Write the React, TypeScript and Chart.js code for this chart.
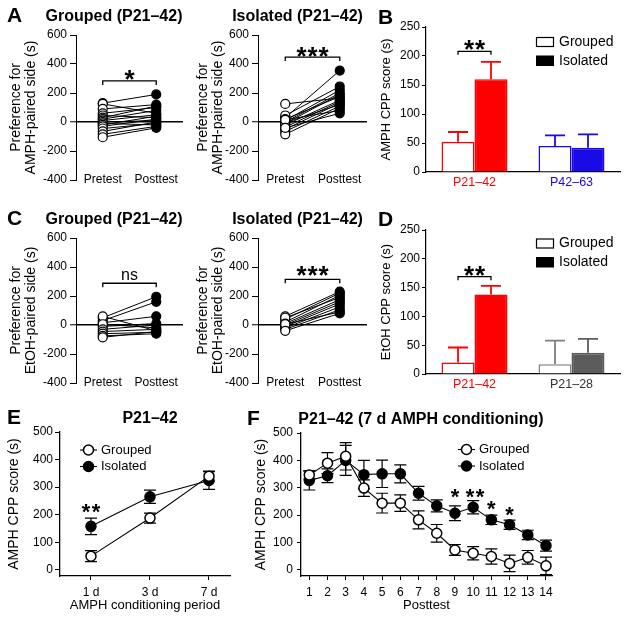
import React, { useEffect, useRef } from 'react';
import { Chart, registerables } from 'chart.js';

Chart.register(...registerables);

const FONT = "'Liberation Sans', Arial, Helvetica, sans-serif";
Chart.defaults.font.family = FONT;
Chart.defaults.color = '#000';

// ---------------- DATA ----------------
const pairLabels = ['Pretest', 'Posttest'];
const prefTicks = [-400, -200, 0, 200, 400, 600];

const aGroupedPre = [130, 125, 90, 60, 45, 30, 20, 10, 0, -10, -20, -30, -45, -65, -85, -105];
const aGroupedPost = [190, 60, 120, 100, 30, 110, 80, 50, 10, -20, 40, 20, -10, 0, -30, -40];
const aIsolatedPre = [125, 30, 45, 10, 0, -10, 20, -20, -35, -50, -5, -65, -85, 15, -40];
const aIsolatedPost = [165, 355, 245, 220, 200, 190, 175, 150, 140, 130, 120, 110, 95, 80, 60];
const cGroupedPre = [50, 30, 15, 60, -10, 5, -30, -45, -60, -75, -85];
const cGroupedPost = [195, 160, 60, -40, 10, -20, 0, -30, -50, -60, -45];
const cIsolatedPre = [60, 40, 20, 50, 10, 0, -10, -20, -30, 5, -40];
const cIsolatedPost = [230, 220, 205, 190, 175, 160, 145, 125, 105, 90, 80];

const cppTicks = [0, 50, 100, 150, 200, 250];
const bCategories = ['P21–42', 'P42–63'];
const bGrouped = [52, 45];
const bGroupedErr = [17, 18];
const bIsolated = [160, 42];
const bIsolatedErr = [30, 23];

const dCategories = ['P21–42', 'P21–28'];
const dGrouped = [20, 17];
const dGroupedErr = [26, 41];
const dIsolated = [138, 37];
const dIsolatedErr = [15, 24];

const scoreTicks = [0, 100, 200, 300, 400, 500];
const eCategories = ['1 d', '3 d', '7 d'];
const eGrouped = [50, 188, 340];
const eGroupedErr = [20, 18, 18];
const eIsolated = [158, 265, 324];
const eIsolatedErr = [30, 24, 32];

const fCategories = ['1', '2', '3', '4', '5', '6', '7', '8', '9', '10', '11', '12', '13', '14'];
const fGrouped = [347, 390, 415, 299, 244, 244, 183, 134, 73, 61, 49, 24, 46, 15];
const fGroupedErr = [15, 38, 50, 30, 36, 30, 33, 32, 20, 24, 28, 30, 25, 32];
const fIsolated = [327, 344, 400, 348, 351, 351, 280, 234, 207, 229, 183, 165, 128, 89];
const fIsolatedErr = [35, 25, 55, 52, 50, 33, 25, 22, 27, 24, 17, 17, 17, 20];
const fStarAt = [9, 10.1, 11, 12];
const fStarCount = [1, 2, 1, 1];
const fStarValue = [286, 286, 243, 221];

// ---------------- STYLE ----------------
const RED = '#ff0000';
const BLUE = '#1a0ae6';
const GRAY = '#808080';
const DARK_GRAY = '#5c5c5c';
const LABEL_GRAY = '#333333';

type Box = { x: number; y: number; w: number; h: number };
type Area = { l: number; t: number; r: number; b: number };

function txt(
  ctx: CanvasRenderingContext2D,
  s: string,
  x: number,
  y: number,
  size: number,
  weight = 'normal',
  align: CanvasTextAlign = 'center',
  baseline: CanvasTextBaseline = 'middle',
  color = '#000'
) {
  ctx.save();
  ctx.font = `${weight} ${size}px ${FONT}`;
  ctx.fillStyle = color;
  ctx.textAlign = align;
  ctx.textBaseline = baseline;
  ctx.fillText(s, x, y);
  ctx.restore();
}

function stars(ctx: CanvasRenderingContext2D, n: number, cx: number, cy: number, size: number, spacing: number) {
  ctx.save();
  ctx.font = `bold ${size}px ${FONT}`;
  ctx.fillStyle = '#000';
  ctx.textAlign = 'center';
  ctx.textBaseline = 'alphabetic';
  for (let k = 0; k < n; k++) ctx.fillText('*', cx + (k - (n - 1) / 2) * spacing, cy + 0.573 * size);
  ctx.restore();
}

function bracket(ctx: CanvasRenderingContext2D, x1: number, x2: number, y: number, leg: number) {
  ctx.save();
  ctx.strokeStyle = '#000';
  ctx.lineWidth = 1.3;
  ctx.beginPath();
  ctx.moveTo(x1, y + leg);
  ctx.lineTo(x1, y);
  ctx.lineTo(x2, y);
  ctx.lineTo(x2, y + leg);
  ctx.stroke();
  ctx.restore();
}

function overlay(under: ((c: any) => void) | null, over: ((c: any) => void) | null) {
  return {
    id: 'overlay',
    beforeDatasetsDraw(chart: any) {
      if (under) under(chart);
    },
    afterDraw(chart: any) {
      if (over) over(chart);
    },
  };
}

function padFor(box: Box, area: Area) {
  return { left: 0, top: area.t - box.y, right: box.x + box.w - area.r, bottom: 0 };
}

// ---------------- PAIR (A, C) ----------------
type PairSpec = {
  box: Box;
  area: Area;
  pre: number[];
  post: number[];
  title: string;
  titleX: number;
  titleY: number;
  letter?: string;
  yTitle: string[];
  yTitlePad: number;
  sig: string;
  sigValue: number;
  sigGap: number;
};

function pairConfig(p: PairSpec): any {
  const { box, area } = p;
  return {
    type: 'scatter',
    data: {
      datasets: [
        {
          data: p.pre.map((v) => ({ x: 0, y: v })),
          pointRadius: 4.5,
          pointBackgroundColor: '#fff',
          pointBorderColor: '#000',
          pointBorderWidth: 1.2,
          showLine: false,
          order: 0,
        },
        {
          data: p.post.map((v) => ({ x: 1, y: v })),
          pointRadius: 4.5,
          pointBackgroundColor: '#000',
          pointBorderColor: '#000',
          pointBorderWidth: 1.2,
          showLine: false,
          order: 0,
        },
        ...p.pre.map((v, i) => ({
          data: [
            { x: 0, y: v },
            { x: 1, y: p.post[i] },
          ],
          showLine: true,
          borderColor: '#000',
          borderWidth: 1,
          pointRadius: 0,
          order: 1,
        })),
      ],
    },
    options: {
      responsive: false,
      animation: false,
      events: [],
      layout: { padding: padFor(box, area) },
      plugins: { legend: { display: false }, tooltip: { enabled: false } },
      scales: {
        x: {
          type: 'linear',
          min: -0.5,
          max: 1.5,
          afterBuildTicks: (s: any) => {
            s.ticks = pairLabels.map((_, i) => ({ value: i }));
          },
          ticks: {
            callback: (v: any) => pairLabels[v],
            font: { family: FONT, size: 12 },
            color: '#000',
            mirror: true,
            padding: -7.2,
            maxRotation: 0,
            autoSkip: false,
          },
          grid: { display: false, drawTicks: false },
          border: { display: false },
          afterFit: (s: any) => {
            s.height = box.y + box.h - area.b;
          },
        },
        y: {
          min: -400,
          max: 600,
          afterBuildTicks: (s: any) => {
            s.ticks = prefTicks.map((v) => ({ value: v }));
          },
          ticks: { font: { family: FONT, size: 12 }, color: '#000', padding: 3 },
          grid: {
            color: (c: any) => (c.tick && c.tick.value === 0 ? '#000' : 'rgba(0,0,0,0)'),
            lineWidth: (c: any) => (c.tick && c.tick.value === 0 ? 1.5 : 1),
            tickColor: '#000',
            tickWidth: 1,
            tickLength: 6,
          },
          border: { display: true, color: '#000', width: 1 },
          title: {
            display: true,
            text: p.yTitle,
            color: '#000',
            font: { family: FONT, size: 14, lineHeight: 1.1 },
            padding: { top: p.yTitlePad, bottom: 0 },
          },
          afterFit: (s: any) => {
            s.width = area.l - box.x;
          },
        },
      },
    },
    plugins: [
      overlay(null, (chart: any) => {
        const ctx = chart.ctx as CanvasRenderingContext2D;
        txt(ctx, p.title, p.titleX - box.x, p.titleY - box.y, 16, 'bold');
        if (p.letter) txt(ctx, p.letter, 7 - box.x, p.titleY - box.y - 1, 21, 'bold', 'left');
        const xs = chart.scales.x;
        const ys = chart.scales.y;
        const x1 = xs.getPixelForValue(0);
        const x2 = xs.getPixelForValue(1);
        const yb = ys.getPixelForValue(p.sigValue);
        bracket(ctx, x1, x2, yb, 4);
        if (p.sig === 'ns') txt(ctx, 'ns', (x1 + x2) / 2, yb - 3, 16, 'normal', 'center', 'alphabetic');
        else stars(ctx, p.sig.length, (x1 + x2) / 2, yb - p.sigGap, 26, 11);
      }),
    ],
  };
}

// ---------------- BARS (B, D) ----------------
type BarSpec = {
  box: Box;
  area: Area;
  categories: string[];
  grouped: number[];
  groupedErr: number[];
  isolated: number[];
  isolatedErr: number[];
  groupedColors: string[];
  isolatedColors: string[];
  labelColors: string[];
  letter: string;
  letterY: number;
  yTitle: string;
  legendTop: number;
  sigValue: number;
};

function barConfig(p: BarSpec): any {
  const { box, area } = p;
  return {
    type: 'bar',
    data: {
      labels: p.categories,
      datasets: [
        {
          label: 'Grouped',
          data: p.grouped,
          backgroundColor: '#fff',
          borderColor: p.groupedColors,
          borderWidth: 1.6,
        },
        {
          label: 'Isolated',
          data: p.isolated,
          backgroundColor: p.isolatedColors,
          borderColor: p.isolatedColors,
          borderWidth: 1.6,
        },
      ],
    },
    options: {
      responsive: false,
      animation: false,
      events: [],
      layout: { padding: padFor(box, area) },
      datasets: { bar: { categoryPercentage: 0.68, barPercentage: 1 } },
      plugins: { legend: { display: false }, tooltip: { enabled: false } },
      scales: {
        x: {
          grid: { display: false, drawTicks: false },
          border: { display: true, color: '#000', width: 1.2 },
          ticks: {
            color: (c: any) => p.labelColors[c.index],
            font: { family: FONT, size: 12.5 },
            padding: 3.5,
          },
          afterFit: (s: any) => {
            s.height = box.y + box.h - area.b;
          },
        },
        y: {
          min: 0,
          max: 250,
          afterBuildTicks: (s: any) => {
            s.ticks = cppTicks.map((v) => ({ value: v }));
          },
          ticks: { font: { family: FONT, size: 12 }, color: '#000', padding: 2 },
          grid: { drawOnChartArea: false, color: '#000', tickColor: '#000', tickLength: 4 },
          border: { display: true, color: '#000', width: 1.2 },
          title: {
            display: true,
            text: p.yTitle,
            color: '#000',
            font: { family: FONT, size: 13 },
            padding: { top: 6.2, bottom: 0 },
          },
          afterFit: (s: any) => {
            s.width = area.l - box.x;
          },
        },
      },
    },
    plugins: [
      overlay(null, (chart: any) => {
        const ctx = chart.ctx as CanvasRenderingContext2D;
        const ys = chart.scales.y;
        const sets = [
          { vals: p.grouped, errs: p.groupedErr, cols: p.groupedColors },
          { vals: p.isolated, errs: p.isolatedErr, cols: p.isolatedColors },
        ];
        sets.forEach((s, di) => {
          const meta = chart.getDatasetMeta(di);
          meta.data.forEach((el: any, j: number) => {
            const top = ys.getPixelForValue(s.vals[j] + s.errs[j]);
            ctx.save();
            ctx.strokeStyle = s.cols[j];
            ctx.lineWidth = 1.8;
            ctx.beginPath();
            ctx.moveTo(el.x, el.y);
            ctx.lineTo(el.x, top);
            ctx.moveTo(el.x - 10, top);
            ctx.lineTo(el.x + 10, top);
            ctx.stroke();
            ctx.restore();
          });
        });
        // letter
        txt(ctx, p.letter, 378 - box.x, p.letterY - box.y, 21, 'bold', 'left');
        // legend
        const lx = 536 - box.x;
        const ly = p.legendTop - box.y;
        ctx.save();
        ctx.fillStyle = '#fff';
        ctx.strokeStyle = '#000';
        ctx.lineWidth = 1.2;
        ctx.fillRect(lx, ly, 18, 10);
        ctx.strokeRect(lx + 0.5, ly + 0.5, 17, 9);
        ctx.fillStyle = '#000';
        ctx.fillRect(lx, ly + 18.5, 18, 10.5);
        ctx.restore();
        txt(ctx, 'Grouped', 559 - box.x, ly + 5, 14, 'normal', 'left');
        txt(ctx, 'Isolated', 559 - box.x, ly + 24, 14, 'normal', 'left');
        // significance
        const m0 = chart.getDatasetMeta(0).data[0];
        const m1 = chart.getDatasetMeta(1).data[0];
        const yb = ys.getPixelForValue(p.sigValue);
        bracket(ctx, m0.x, m1.x, yb, 3.5);
        stars(ctx, 2, (m0.x + m1.x) / 2, yb - 8, 26, 11);
      }),
    ],
  };
}

// ---------------- LINES (E, F) ----------------
type LineSpec = {
  box: Box;
  area: Area;
  categories: string[];
  grouped: number[];
  groupedErr: number[];
  isolated: number[];
  isolatedErr: number[];
  xMin: number;
  xMax: number;
  xTitle: string;
  xTitlePad: number;
  yTitlePad: number;
  yTickLen: number;
  yTickPad: number;
  letter: string;
  letterX: number;
  title: string;
  titleX: number;
  titleY: number;
  legendX: number;
  legendY: number;
  starAt: number[];
  starCount: number[];
  starValue: number[];
  starSpacing: number;
};

function lineConfig(p: LineSpec): any {
  const { box, area } = p;
  const mk = (vals: number[], fill: string, label: string) => ({
    label,
    data: vals.map((v, i) => ({ x: i + 1, y: v })),
    showLine: true,
    borderColor: '#000',
    borderWidth: 1.1,
    pointRadius: 5,
    pointBackgroundColor: fill,
    pointBorderColor: '#000',
    pointBorderWidth: 1.5,
  });
  return {
    type: 'scatter',
    data: {
      datasets: [mk(p.grouped, '#fff', 'Grouped'), mk(p.isolated, '#000', 'Isolated')],
    },
    options: {
      responsive: false,
      animation: false,
      events: [],
      layout: { padding: padFor(box, area) },
      plugins: { legend: { display: false }, tooltip: { enabled: false } },
      scales: {
        x: {
          type: 'linear',
          min: p.xMin,
          max: p.xMax,
          afterBuildTicks: (s: any) => {
            s.ticks = p.categories.map((_, i) => ({ value: i + 1 }));
          },
          ticks: {
            callback: (v: any) => p.categories[v - 1],
            font: { family: FONT, size: 12 },
            color: '#000',
            padding: 5,
            maxRotation: 0,
            autoSkip: false,
          },
          grid: { drawOnChartArea: false, color: '#000', tickColor: '#000', tickLength: 4 },
          border: { display: true, color: '#000', width: 1.3 },
          title: {
            display: true,
            text: p.xTitle,
            color: '#000',
            font: { family: FONT, size: 13 },
            padding: { top: 0, bottom: p.xTitlePad },
          },
          afterFit: (s: any) => {
            s.height = box.y + box.h - area.b;
          },
        },
        y: {
          min: -22,
          max: 500,
          afterBuildTicks: (s: any) => {
            s.ticks = scoreTicks.map((v) => ({ value: v }));
          },
          ticks: { font: { family: FONT, size: 12 }, color: '#000', padding: p.yTickPad },
          grid: { drawOnChartArea: false, color: '#000', tickColor: '#000', tickLength: p.yTickLen },
          border: { display: true, color: '#000', width: 1.3 },
          title: {
            display: true,
            text: 'AMPH CPP score (s)',
            color: '#000',
            font: { family: FONT, size: 14 },
            padding: { top: p.yTitlePad, bottom: 0 },
          },
          afterFit: (s: any) => {
            s.width = area.l - box.x;
          },
        },
      },
    },
    plugins: [
      overlay(
        (chart: any) => {
          const ctx = chart.ctx as CanvasRenderingContext2D;
          const xs = chart.scales.x;
          const ys = chart.scales.y;
          const sets = [
            { vals: p.grouped, errs: p.groupedErr },
            { vals: p.isolated, errs: p.isolatedErr },
          ];
          ctx.save();
          ctx.strokeStyle = '#000';
          ctx.lineWidth = 1.2;
          sets.forEach((s) => {
            s.vals.forEach((v, j) => {
              const x = xs.getPixelForValue(j + 1);
              const yt = ys.getPixelForValue(v + s.errs[j]);
              const yb = ys.getPixelForValue(v - s.errs[j]);
              ctx.beginPath();
              ctx.moveTo(x, yt);
              ctx.lineTo(x, yb);
              ctx.moveTo(x - 6, yt);
              ctx.lineTo(x + 6, yt);
              ctx.moveTo(x - 6, yb);
              ctx.lineTo(x + 6, yb);
              ctx.stroke();
            });
          });
          ctx.restore();
        },
        (chart: any) => {
          const ctx = chart.ctx as CanvasRenderingContext2D;
          const xs = chart.scales.x;
          const ys = chart.scales.y;
          txt(ctx, p.letter, p.letterX - box.x, p.titleY - box.y - 1, 21, 'bold', 'left');
          txt(ctx, p.title, p.titleX - box.x, p.titleY - box.y, 16, 'bold');
          // legend
          const items = [
            { fill: '#fff', label: 'Grouped' },
            { fill: '#000', label: 'Isolated' },
          ];
          items.forEach((it, k) => {
            const y = p.legendY - box.y + k * 16.5;
            const x0 = p.legendX - box.x;
            ctx.save();
            ctx.strokeStyle = '#000';
            ctx.lineWidth = 1.1;
            ctx.beginPath();
            ctx.moveTo(x0, y);
            ctx.lineTo(x0 + 17, y);
            ctx.stroke();
            ctx.beginPath();
            ctx.arc(x0 + 8.5, y, 5, 0, Math.PI * 2);
            ctx.fillStyle = it.fill;
            ctx.fill();
            ctx.lineWidth = 1.5;
            ctx.stroke();
            ctx.restore();
            txt(ctx, it.label, x0 + 21, y, 13, 'normal', 'left');
          });
          // stars
          p.starAt.forEach((c, k) => {
            stars(ctx, p.starCount[k], xs.getPixelForValue(c), ys.getPixelForValue(p.starValue[k]), 22, p.starSpacing);
          });
        }
      ),
    ],
  };
}

// ---------------- PANELS ----------------
const A1: PairSpec = {
  box: { x: 0, y: 0, w: 192, h: 195 },
  area: { l: 76, t: 35, r: 183, b: 180 },
  pre: aGroupedPre,
  post: aGroupedPost,
  title: 'Grouped (P21–42)',
  titleX: 114,
  titleY: 17,
  letter: 'A',
  yTitle: ['Preference for', 'AMPH-paired side (s)'],
  yTitlePad: 8.3,
  sig: '*',
  sigValue: 283,
  sigGap: 8,
};
const A2: PairSpec = {
  box: { x: 188, y: 0, w: 190, h: 195 },
  area: { l: 258, t: 35, r: 367, b: 180 },
  pre: aIsolatedPre,
  post: aIsolatedPost,
  title: 'Isolated (P21–42)',
  titleX: 297.5,
  titleY: 17,
  yTitle: ['Preference for', 'AMPH-paired side (s)'],
  yTitlePad: 7.3,
  sig: '***',
  sigValue: 448,
  sigGap: 7,
};
const C1: PairSpec = {
  box: { x: 0, y: 195, w: 192, h: 200 },
  area: { l: 76, t: 238, r: 183, b: 383 },
  pre: cGroupedPre,
  post: cGroupedPost,
  title: 'Grouped (P21–42)',
  titleX: 114,
  titleY: 220,
  letter: 'C',
  yTitle: ['Preference for', 'EtOH-paired side (s)'],
  yTitlePad: 8.3,
  sig: 'ns',
  sigValue: 288,
  sigGap: 8,
};
const C2: PairSpec = {
  box: { x: 188, y: 195, w: 190, h: 200 },
  area: { l: 258, t: 238, r: 367, b: 383 },
  pre: cIsolatedPre,
  post: cIsolatedPost,
  title: 'Isolated (P21–42)',
  titleX: 297.5,
  titleY: 220,
  yTitle: ['Preference for', 'EtOH-paired side (s)'],
  yTitlePad: 7.3,
  sig: '***',
  sigValue: 315,
  sigGap: 10,
};
const B: BarSpec = {
  box: { x: 372, y: 0, w: 257, h: 195 },
  area: { l: 426, t: 27, r: 620, b: 172 },
  categories: bCategories,
  grouped: bGrouped,
  groupedErr: bGroupedErr,
  isolated: bIsolated,
  isolatedErr: bIsolatedErr,
  groupedColors: [RED, BLUE],
  isolatedColors: [RED, BLUE],
  labelColors: [RED, BLUE],
  letter: 'B',
  letterY: 18,
  yTitle: 'AMPH CPP score (s)',
  legendTop: 37,
  sigValue: 208,
};
const D: BarSpec = {
  box: { x: 372, y: 195, w: 257, h: 200 },
  area: { l: 426, t: 230, r: 620, b: 374 },
  categories: dCategories,
  grouped: dGrouped,
  groupedErr: dGroupedErr,
  isolated: dIsolated,
  isolatedErr: dIsolatedErr,
  groupedColors: [RED, GRAY],
  isolatedColors: [RED, DARK_GRAY],
  labelColors: [RED, LABEL_GRAY],
  letter: 'D',
  letterY: 220,
  yTitle: 'EtOH CPP score (s)',
  legendTop: 238.5,
  sigValue: 169,
};
const E: LineSpec = {
  box: { x: 0, y: 400, w: 240, h: 220 },
  area: { l: 60, t: 432, r: 230, b: 576 },
  categories: eCategories,
  grouped: eGrouped,
  groupedErr: eGroupedErr,
  isolated: eIsolated,
  isolatedErr: eIsolatedErr,
  xMin: 0.475,
  xMax: 3.356,
  xTitle: 'AMPH conditioning period',
  xTitlePad: 6.7,
  yTitlePad: 5.6,
  yTickLen: 5,
  yTickPad: 2,
  letter: 'E',
  letterX: 7,
  title: 'P21–42',
  titleX: 150,
  titleY: 419,
  legendX: 80,
  legendY: 450,
  starAt: [1],
  starCount: [2],
  starValue: [230],
  starSpacing: 10,
};
const F: LineSpec = {
  box: { x: 240, y: 400, w: 389, h: 220 },
  area: { l: 301, t: 433, r: 552, b: 576 },
  categories: fCategories,
  grouped: fGrouped,
  groupedErr: fGroupedErr,
  isolated: fIsolated,
  isolatedErr: fIsolatedErr,
  xMin: 0.545,
  xMax: 14.33,
  xTitle: 'Posttest',
  xTitlePad: 7,
  yTitlePad: 12.6,
  yTickLen: 4,
  yTickPad: 4,
  letter: 'F',
  letterX: 247,
  title: 'P21–42 (7 d AMPH conditioning)',
  titleX: 421,
  titleY: 420,
  legendX: 458,
  legendY: 449.5,
  starAt: fStarAt,
  starCount: fStarCount,
  starValue: fStarValue,
  starSpacing: 10,
};

function Panel({ box, make }: { box: Box; make: () => any }) {
  const ref = useRef<HTMLCanvasElement>(null);
  useEffect(() => {
    const chart = new Chart(ref.current as HTMLCanvasElement, make());
    return () => chart.destroy();
  }, []);
  return (
    <canvas
      ref={ref}
      width={box.w}
      height={box.h}
      style={{ position: 'absolute', left: box.x, top: box.y, width: box.w, height: box.h }}
    />
  );
}

export default function App() {
  return (
    <div
      style={{
        position: 'absolute',
        left: 0,
        top: 0,
        width: 629,
        height: 620,
        background: '#fff',
        overflow: 'hidden',
      }}
    >
      <Panel box={A1.box} make={() => pairConfig(A1)} />
      <Panel box={A2.box} make={() => pairConfig(A2)} />
      <Panel box={C1.box} make={() => pairConfig(C1)} />
      <Panel box={C2.box} make={() => pairConfig(C2)} />
      <Panel box={B.box} make={() => barConfig(B)} />
      <Panel box={D.box} make={() => barConfig(D)} />
      <Panel box={E.box} make={() => lineConfig(E)} />
      <Panel box={F.box} make={() => lineConfig(F)} />
    </div>
  );
}
